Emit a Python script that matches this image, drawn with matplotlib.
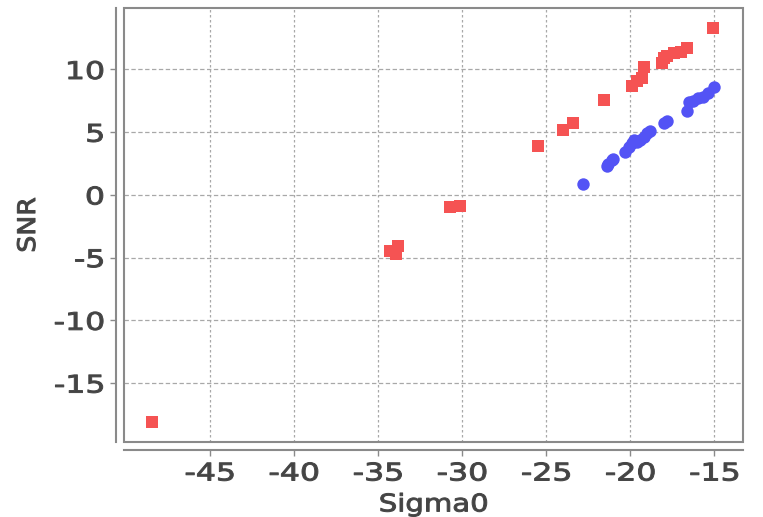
import matplotlib
matplotlib.use("Agg")
import matplotlib.pyplot as plt
from matplotlib.patches import Rectangle
from matplotlib.patheffects import AbstractPathEffect
from matplotlib.transforms import Affine2D

plt.rcParams["axes.unicode_minus"] = False
plt.rcParams["font.family"] = ["DejaVu Sans"]

# valores
rojo_x = [-48.45, -34.3, -33.8, -33.9, -30.7, -30.1, -25.5, -24.0, -23.4, -21.55,
          -15.1, -19.9, -19.6, -19.2, -19.3, -18.1, -18.0, -17.8, -17.4, -17.0, -16.6]
rojo_y = [-18.1, -4.5, -4.1, -4.7, -1.0, -0.9, 3.9, 5.2, 5.7, 7.6,
          13.3, 8.7, 9.1, 10.2, 9.3, 10.5, 10.9, 11.1, 11.3, 11.4, 11.7]

azul_x = [-22.8, -21.4, -21.3, -21.1, -21.0, -20.3, -20.1, -19.9, -19.6, -19.8, -19.4,
          -19.2, -19.0, -18.8, -18.0, -17.8, -16.6, -16.5, -16.3, -16.0, -15.7, -15.4, -15.0]
azul_y = [0.9, 2.3, 2.5, 2.8, 2.9, 3.4, 3.8, 4.1, 4.2, 4.4, 4.4,
          4.6, 4.9, 5.1, 5.7, 5.9, 6.7, 7.4, 7.5, 7.7, 7.8, 8.1, 8.6]

x_ticks = [-45, -40, -35, -30, -25, -20, -15]
y_ticks = [-15, -10, -5, 0, 5, 10]


class Estirar(AbstractPathEffect):
    """ensancha el texto en horizontal y le da algo más de grosor"""
    def __init__(self, fx, ancla="centro", grosor=0.7):
        super().__init__()
        self.fx = fx
        self.ancla = ancla
        self.grosor = grosor

    def draw_path(self, renderer, gc, tpath, affine, rgbFace=None):
        v = tpath.vertices
        if len(v) == 0:
            return
        if self.ancla == "derecha":
            cx = v[:, 0].max()
        else:
            cx = (v[:, 0].min() + v[:, 0].max()) / 2
        t = Affine2D().translate(-cx, 0).scale(self.fx, 1).translate(cx, 0) + affine
        gc0 = renderer.new_gc()
        gc0.copy_properties(gc)
        gc0.set_linewidth(self.grosor)
        gc0.set_foreground(rgbFace)
        renderer.draw_path(gc0, tpath, t, rgbFace)
        gc0.restore()


color_texto = "#444444"
color_eje = "#8a8a8a"

fig = plt.figure(figsize=(7.63, 5.17), dpi=100)
ax = fig.add_axes([0.1625, 0.145, 0.9738 - 0.1625, 0.9845 - 0.145])

ax.scatter(rojo_x, rojo_y, marker="s", s=75, color="#f55353", zorder=3, linewidths=0)
ax.scatter(azul_x, azul_y, marker="o", s=80, color="#5353f5", zorder=3, linewidths=0)

ax.set_xlim(-50.1, -13.3)
ax.set_ylim(-19.7, 14.9)
ax.set_xticks(x_ticks)
ax.set_yticks(y_ticks)

ax.xaxis.grid(True, color="#a8a8a8", linestyle=(0, (2, 2)), linewidth=0.9)
ax.yaxis.grid(True, color="#a8a8a8", linestyle=(0, (3.5, 2)), linewidth=0.9)

# caja del área de datos
ax.add_patch(Rectangle((0, 0), 1, 1, transform=ax.transAxes, fill=False,
                       edgecolor=color_eje, linewidth=1.5, zorder=4, clip_on=False))

# ejes desplazados
for lado in ["top", "right"]:
    ax.spines[lado].set_visible(False)
for lado in ["left", "bottom"]:
    ax.spines[lado].set_position(("outward", 6))
    ax.spines[lado].set_color(color_eje)
    ax.spines[lado].set_linewidth(1.5)

ax.tick_params(axis="both", colors=color_eje, labelcolor=color_texto,
               labelsize=17.5, length=4, width=1, pad=4)

for lbl in ax.get_xticklabels():
    lbl.set_path_effects([Estirar(1.3)])
for lbl in ax.get_yticklabels():
    lbl.set_path_effects([Estirar(1.3, "derecha")])

ax.set_xlabel("Sigma0", fontsize=17.5, color=color_texto, labelpad=5,
              path_effects=[Estirar(1.2)])
ax.set_ylabel("SNR", fontsize=17.5, color=color_texto, labelpad=18,
              path_effects=[Estirar(1.1)])

fig.savefig("out.png", dpi=100)
